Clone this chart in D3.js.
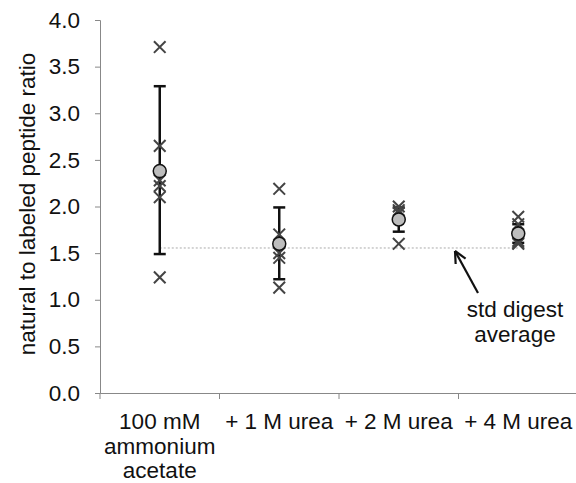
<!DOCTYPE html>
<html><head><meta charset="utf-8">
<script src="https://cdn.jsdelivr.net/npm/d3@7"></script>
<style>body{margin:0;background:#fff}svg{display:block}text{font-family:"Liberation Sans",Arial,sans-serif;fill:#111}</style>
</head><body><svg id="c" width="576" height="483"></svg>
<script>
const categories = ["100 mM|ammonium|acetate", "+ 1 M urea", "+ 2 M urea", "+ 4 M urea"];
const replicates = [
  [3.71, 2.65, 2.28, 2.22, 2.10, 1.24],
  [2.19, 1.70, 1.50, 1.45, 1.13],
  [2.00, 1.96, 1.93, 1.60],
  [1.89, 1.81, 1.63, 1.60, 1.61]
];
const means = [2.38, 1.60, 1.86, 1.71];
const errLow = [1.49, 1.22, 1.73, 1.61];
const errHigh = [3.29, 1.99, 1.99, 1.81];
const stdDigestAverage = 1.555;
const yTicks = [0, 0.5, 1.0, 1.5, 2.0, 2.5, 3.0, 3.5, 4.0];
const yLabel = "natural to labeled peptide ratio";
const noteLines = ["std digest", "average"];

const FS = "22.5px";
const svg = d3.select("#c");
const x = d3.scaleBand().domain(categories).range([100, 578]);
const y = d3.scaleLinear().domain([0, 4]).range([393, 20]);
const cx = c => x(c) + x.bandwidth() / 2;

// y axis
const ya = svg.append("g").attr("transform", "translate(100,0)")
  .call(d3.axisLeft(y).tickValues(yTicks).tickFormat(d3.format(".1f")).tickSize(5).tickPadding(15));
ya.selectAll("text").style("font-size", FS).attr("fill", "#111");
ya.selectAll("line,path").attr("stroke", "#888");

// x axis
const xa = svg.append("g").attr("transform", "translate(0,393)")
  .call(d3.axisBottom(x).tickSizeInner(0).tickSizeOuter(0).tickFormat(""));
xa.select("path").attr("stroke", "#888");
xa.selectAll(".tick").remove();
svg.append("g").selectAll("line").data(categories.slice(1))
  .join("line")
  .attr("x1", d => x(d)).attr("x2", d => x(d)).attr("y1", 393).attr("y2", 399).attr("stroke", "#888");
svg.append("line").attr("x1", 100).attr("x2", 100).attr("y1", 393).attr("y2", 399).attr("stroke", "#888");

// category labels
categories.forEach(c => {
  const t = svg.append("text").attr("text-anchor", "middle").style("font-size", FS);
  c.split("|").forEach((ln, i) => {
    t.append("tspan").attr("x", cx(c)).attr("y", 429 + i * 24.5).text(ln);
  });
});

// y label
svg.append("text").attr("transform", `translate(35,${(55 + 353) / 2}) rotate(-90)`)
  .attr("text-anchor", "middle").style("font-size", FS).text(yLabel);

// std digest line
svg.append("line").attr("x1", cx(categories[0])).attr("x2", cx(categories[3]))
  .attr("y1", y(stdDigestAverage)).attr("y2", y(stdDigestAverage))
  .attr("stroke", "#aaa").attr("stroke-width", 1).attr("stroke-dasharray", "2,2");

// error bars
categories.forEach((c, i) => {
  const g = svg.append("g").attr("stroke", "#111").attr("stroke-width", 2.5);
  g.append("line").attr("x1", cx(c)).attr("x2", cx(c)).attr("y1", y(errLow[i])).attr("y2", y(errHigh[i]));
  [errLow[i], errHigh[i]].forEach(v => g.append("line").attr("x1", cx(c) - 6).attr("x2", cx(c) + 6).attr("y1", y(v)).attr("y2", y(v)));
});

// crosses
categories.forEach((c, i) => {
  replicates[i].forEach(v => {
    svg.append("path").attr("d", d3.symbol(d3.symbolX, 90)())
      .attr("transform", `translate(${cx(c)},${y(v)})`)
      .attr("fill", "none").attr("stroke", "#444").attr("stroke-width", 2);
  });
});

// means
svg.append("g").selectAll("circle").data(categories).join("circle")
  .attr("cx", d => cx(d)).attr("cy", (d, i) => y(means[i])).attr("r", 6.5)
  .attr("fill", "#bdbdbd").attr("stroke", "#111").attr("stroke-width", 1.5);

// arrow annotation
const ax0 = 478, ay0 = 293, ax1 = 455, ay1 = 251;
svg.append("line").attr("x1", ax0).attr("y1", ay0).attr("x2", ax1).attr("y2", ay1)
  .attr("stroke", "#111").attr("stroke-width", 2.2);
const ang = Math.atan2(ay1 - ay0, ax1 - ax0);
[0.45, -0.45].forEach(a => {
  svg.append("line").attr("x1", ax1).attr("y1", ay1)
    .attr("x2", ax1 - 13 * Math.cos(ang + a)).attr("y2", ay1 - 13 * Math.sin(ang + a))
    .attr("stroke", "#111").attr("stroke-width", 2.2);
});
const nt = svg.append("text").attr("text-anchor", "middle").style("font-size", FS);
noteLines.forEach((ln, i) => nt.append("tspan").attr("x", 515).attr("y", 317 + i * 25).text(ln));
</script></body></html>
